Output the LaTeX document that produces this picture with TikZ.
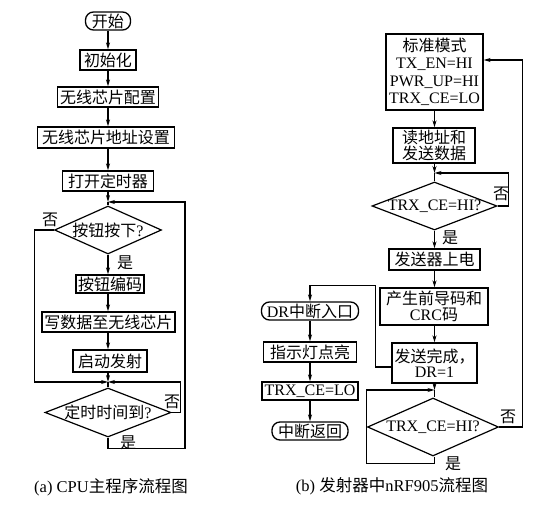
\documentclass[tikz,border=0pt]{standalone}
\usepackage{fontspec}
\setmainfont{Liberation Serif}
\newfontfamily\cjk{Noto Sans CJK SC}
\newcommand\zhc[1]{{\cjk #1}}
\usetikzlibrary{shapes.geometric,arrows.meta}
\begin{document}
\begin{tikzpicture}[x=1pt,y=-1pt,
  every node/.style={font=\fontsize{16}{17.5}\selectfont},
  box/.style={draw,line width=1.3pt,inner sep=0pt,align=center},
  rbox/.style={box,rounded corners=8pt},
  dia/.style={draw,diamond,line width=1.2pt,inner sep=0pt},
  lab/.style={inner sep=0pt},
  captext/.style={inner sep=0pt,font=\fontsize{16.5}{18}\selectfont},
  arr/.style={line width=1.1pt,-{Stealth[length=7pt,width=4pt]}},
  ln/.style={line width=1.1pt}]
\useasboundingbox (0,0) rectangle (550,510);
% ---------- left flowchart ----------
\node[rbox,minimum width=45pt,minimum height=18pt] (start) at (108,21) {\zhc{开始}};
\node[box,minimum width=56pt,minimum height=20pt] (init) at (108,60) {\zhc{初始化}};
\node[box,minimum width=101pt,minimum height=20pt] (cfg) at (108,97) {\zhc{无线芯片配置}};
\node[box,minimum width=137pt,minimum height=21pt] (addr) at (106,137.5) {\zhc{无线芯片地址设置}};
\node[box,minimum width=91pt,minimum height=20pt] (timer) at (108,181) {\zhc{打开定时器}};
\coordinate (j1) at (108,202);
\node[dia,minimum width=107pt,minimum height=48pt] (d1) at (108,230) {\makebox[0pt]{\zhc{按钮按下}?}};
\node[box,minimum width=68pt,minimum height=18pt] (enc) at (110,284) {\zhc{按钮编码}};
\node[box,minimum width=133pt,minimum height=20pt] (wr) at (108.5,322) {\zhc{写数据至无线芯片}};
\node[box,minimum width=74pt,minimum height=22pt] (launch) at (110,361) {\zhc{启动发射}};
\coordinate (j2) at (108,382);
\node[dia,minimum width=126pt,minimum height=49pt] (d2) at (108,412.5) {\makebox[0pt]{\zhc{定时时间到}?}};

\draw[arr] (start) -- (init);
\draw[arr] (init) -- (cfg);
\draw[arr] (cfg) -- (cfg |- addr.north);
\draw[arr] (cfg |- addr.south) -- (timer);
\draw[arr] (timer) -- (j1);
\draw[ln] (j1) -- (d1.north);
\draw[arr] (d1.south) -- (d1.south |- enc.north);
\draw[arr] (d1.south |- enc.south) -- (d1.south |- wr.north);
\draw[arr] (d1.south |- wr.south) -- (d1.south |- launch.north);
\draw[arr] (d1.south |- launch.south) -- (j2);
\draw[ln] (j2) -- (d2.north);
\draw[arr] (d1.west) -- ++(-19,0) |- (j2);
\draw[arr] (d2.east) -- ++(9,0) |- (j2);
\draw[arr] (d2.south) -- ++(0,11) -| ([xshift=77pt]j1) -- (j1);

\node[lab] (n1) at (50,220) {\zhc{否}};
\node[lab] (y1) at (125,263) {\zhc{是}};
\node[lab] (n2) at (172,402) {\zhc{否}};
\node[lab] (y2) at (128,443) {\zhc{是}};

% ---------- right flowchart ----------
\node[box,minimum width=97pt,minimum height=76pt] (std) at (434.5,72) {\zhc{标准模式}\\TX\_EN=HI\\PWR\_UP=HI\\TRX\_CE=LO};
\node[box,minimum width=82pt,minimum height=35pt] (rd) at (434,145.5) {\zhc{读地址和}\\[-1pt]\zhc{发送数据}};
\coordinate (j3) at (434.5,173);
\node[dia,minimum width=125pt,minimum height=48pt] (d3) at (434.5,206) {\makebox[0pt]{TRX\_CE=HI?}};
\node[box,minimum width=91pt,minimum height=21pt] (pu) at (434.5,259.5) {\zhc{发送器上电}};
\node[box,minimum width=108pt,minimum height=37pt] (crc) at (434,306.5) {\zhc{产生前导码和}\\[-2pt]CRC\zhc{码}};
\node[box,minimum width=85pt,minimum height=40pt] (done) at (434.5,363) {\zhc{发送完成，}\\[-2pt]DR=1};
\coordinate (j4) at (434.5,390);
\node[dia,minimum width=131pt,minimum height=58pt] (d4) at (433,427) {\makebox[0pt]{TRX\_CE=HI?}};

\node[rbox,minimum width=97pt,minimum height=18pt] (dr) at (310,311) {DR\zhc{中断入口}};
\node[box,minimum width=93pt,minimum height=20pt] (ind) at (310,352) {\zhc{指示灯点亮}};
\node[box,minimum width=96pt,minimum height=18pt] (lo) at (310,391) {TRX\_CE=LO};
\node[rbox,minimum width=76pt,minimum height=18pt] (ret) at (310,431) {\zhc{中断返回}};

\draw[arr] (std.south -| j3) -- (rd.north -| j3);
\draw[arr] (rd.south -| j3) -- (j3);
\draw[ln] (j3) -- (d3.north);
\draw[arr] (d3.east) -- ++(11,0) |- (j3);
\draw[arr] (d3.south) -- (pu.north -| d3.south);
\draw[arr] (pu.south -| d3.south) -- (crc.north -| d3.south);
\draw[arr] (crc.south -| d3.south) -- (done.north -| d3.south);
\draw[arr] (done.south -| d3.south) -- (j4);
\draw[ln] (j4) -- (j4 |- d4.north);
\draw[arr] (j4 |- d4.south) -- ++(0,7) -| ([xshift=-68pt]j4) -- (j4);
\draw[arr] (d4.east) -- ++(23,0) |- ([yshift=12pt]std.east);
\draw[arr] ([yshift=-4pt]done.west) -- ++(-16,0) |- ([yshift=16pt]dr.north) -- (dr.north);
\draw[arr] (dr) -- (ind);
\draw[arr] (ind) -- (lo);
\draw[arr] (lo) -- (ret);

\node[lab] (n3) at (501,194) {\zhc{否}};
\node[lab] (y3) at (450,238) {\zhc{是}};
\node[lab] (n4) at (508,417) {\zhc{否}};
\node[lab] (y4) at (453,464) {\zhc{是}};

% ---------- captions ----------
\node[captext] (capa) at (111,487) {(a) CPU\zhc{主程序流程图}};
\node[captext] (capb) at (392,486) {(b) \zhc{发射器中}nRF905\zhc{流程图}};
\end{tikzpicture}
\end{document}
